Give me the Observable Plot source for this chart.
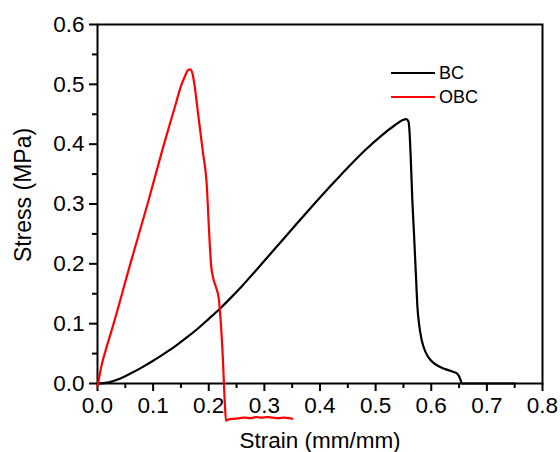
<!DOCTYPE html>
<html><head><meta charset="utf-8">
<script src="https://cdn.jsdelivr.net/npm/d3@7"></script>
<script src="https://cdn.jsdelivr.net/npm/@observablehq/plot@0.6"></script>
<style>
body{margin:0;background:#fff;}
#wrap{position:relative;width:560px;height:452px;font-family:"Liberation Sans",Arial,sans-serif;color:#000;}
#legend{position:absolute;left:391px;top:60.7px;}
.row{display:flex;align-items:center;height:24px;}
.sw{width:44px;height:0;border-top:2.2px solid;margin-right:4px;}
.lab{font-size:18px;line-height:24px;}
</style></head><body><div id="wrap"></div>
<script>
const bcStrain = [0, 0.02, 0.04, 0.06, 0.08, 0.10, 0.12, 0.14, 0.16, 0.18, 0.20, 0.22, 0.24, 0.26, 0.28, 0.30, 0.33, 0.36, 0.40, 0.44, 0.48, 0.51, 0.535, 0.548, 0.555, 0.559, 0.561, 0.563, 0.566, 0.569, 0.571, 0.573, 0.575, 0.578, 0.583, 0.590, 0.600, 0.611, 0.625, 0.638, 0.646, 0.650, 0.653, 0.655, 0.70, 0.75];
const bcStress = [0, 0.002, 0.008, 0.017, 0.027, 0.038, 0.050, 0.0625, 0.0765, 0.0915, 0.108, 0.125, 0.1435, 0.163, 0.184, 0.205, 0.237, 0.269, 0.311, 0.351, 0.389, 0.414, 0.432, 0.440, 0.442, 0.438, 0.420, 0.380, 0.306, 0.250, 0.210, 0.170, 0.130, 0.100, 0.072, 0.052, 0.038, 0.030, 0.024, 0.020, 0.017, 0.012, 0.005, 0, 0, 0];
const obcStrain = [0, 0.004, 0.008, 0.013, 0.029, 0.059, 0.090, 0.118, 0.140, 0.150, 0.157, 0.163, 0.167, 0.171, 0.175, 0.180, 0.189, 0.197, 0.200, 0.202, 0.204, 0.208, 0.213, 0.218, 0.221, 0.225, 0.229, 0.231, 0.236, 0.245, 0.255, 0.265, 0.275, 0.285, 0.295, 0.305, 0.315, 0.325, 0.335, 0.345, 0.350];
const obcStress = [-0.005, 0.015, 0.033, 0.050, 0.100, 0.200, 0.300, 0.395, 0.465, 0.497, 0.513, 0.524, 0.525, 0.517, 0.495, 0.457, 0.390, 0.323, 0.265, 0.230, 0.200, 0.176, 0.161, 0.142, 0.110, 0.049, -0.035, -0.062, -0.060, -0.059, -0.058, -0.057, -0.058, -0.056, -0.057, -0.056, -0.057, -0.058, -0.057, -0.058, -0.059];
const seriesNames = ["BC", "OBC"];
const seriesColors = ["#000000", "#ff0000"];
const xTicks = [0, 0.1, 0.2, 0.3, 0.4, 0.5, 0.6, 0.7, 0.8];
const yTicks = [0, 0.1, 0.2, 0.3, 0.4, 0.5, 0.6];
const xMinor = [0.05, 0.15, 0.25, 0.35, 0.45, 0.55, 0.65, 0.75];
const yMinor = [0.05, 0.15, 0.25, 0.35, 0.45, 0.55];
const xTitle = "Strain (mm/mm)";
const yTitle = "Stress (MPa)";

const bc = bcStrain.map((s, i) => ({strain: s, stress: bcStress[i]}));
const obc = obcStrain.map((s, i) => ({strain: s, stress: obcStress[i]}));
const fmt = d => d.toFixed(1);

const chart = Plot.plot({
  width: 560, height: 452,
  marginLeft: 97, marginRight: 18, marginTop: 24, marginBottom: 69,
  style: {fontFamily: '"Liberation Sans", Arial, sans-serif', fontSize: "22px", color: "#000", background: "#fff"},
  x: {domain: [0, 0.8]},
  y: {domain: [0, 0.6]},
  marks: [
    Plot.axisX({ticks: xTicks, tickSize: 8, tickPadding: 6, tickFormat: fmt, fontSize: 22.5, label: null, strokeWidth: 2}),
    Plot.axisX({ticks: xMinor, tickSize: 5, text: null, label: null, strokeWidth: 2}),
    Plot.axisY({ticks: yTicks, tickSize: 8, tickPadding: 5, tickFormat: fmt, fontSize: 22.5, label: null, strokeWidth: 2}),
    Plot.axisY({ticks: yMinor, tickSize: 5, text: null, label: null, strokeWidth: 2}),
    Plot.frame({stroke: "#000", strokeWidth: 2}),
    Plot.line(bc, {x: "strain", y: "stress", stroke: seriesColors[0], strokeWidth: 2.2, curve: "monotone-x"}),
    Plot.line(obc, {x: "strain", y: "stress", stroke: seriesColors[1], strokeWidth: 2.2, curve: "monotone-x"}),
    Plot.text([xTitle], {text: d => d, frameAnchor: "bottom", textAnchor: "middle", dy: 57, fontSize: 22.5, lineAnchor: "middle", fill: "#000"}),
    Plot.text([yTitle], {text: d => d, frameAnchor: "left", textAnchor: "middle", rotate: -90, dx: -73.5, dy: -9, fontSize: 23, lineAnchor: "middle", fill: "#000"})
  ]
});
const wrap = document.getElementById("wrap");
wrap.appendChild(chart);
const leg = document.createElement("div");
leg.id = "legend";
seriesNames.forEach((n, i) => {
  const r = document.createElement("div"); r.className = "row";
  const sw = document.createElement("span"); sw.className = "sw"; sw.style.borderTopColor = seriesColors[i];
  const lb = document.createElement("span"); lb.className = "lab"; lb.textContent = n;
  r.appendChild(sw); r.appendChild(lb); leg.appendChild(r);
});
wrap.appendChild(leg);
</script></body></html>
